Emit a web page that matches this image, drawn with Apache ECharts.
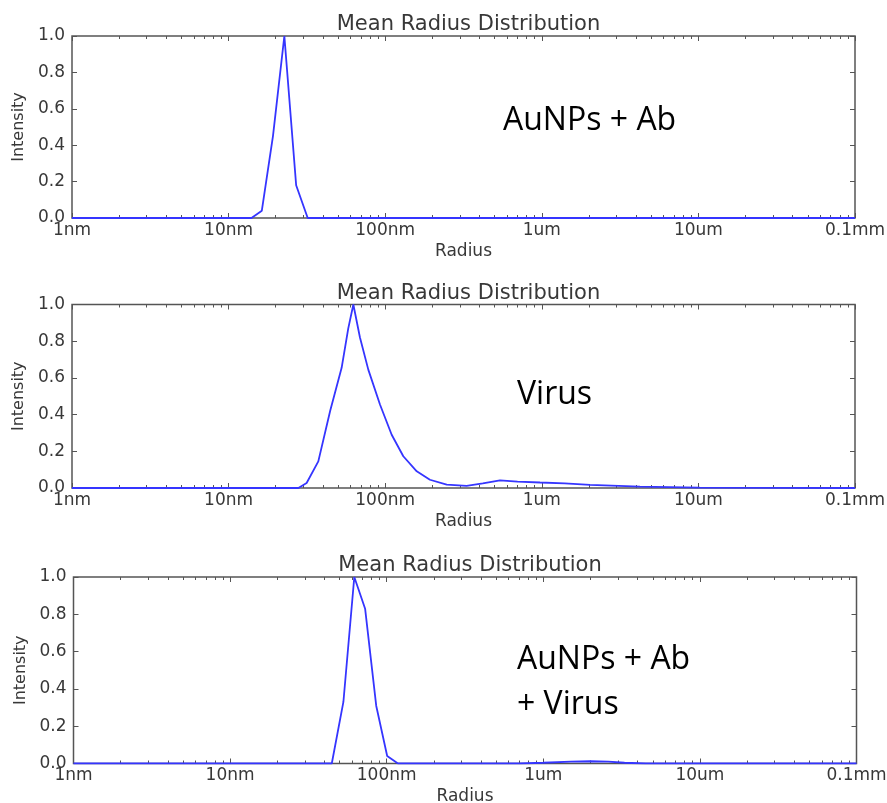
<!DOCTYPE html>
<html>
<head>
<meta charset="utf-8">
<script src="https://cdn.jsdelivr.net/npm/echarts@6/dist/echarts.min.js"></script>
<style>
  html, body { margin: 0; padding: 0; background: #fff; }
  #chart { width: 887px; height: 803px; }
</style>
</head>
<body>
<div id="chart"></div>
<script>
// Radius axis (nm), decade ticks and their labels
const radiusTicks = [1, 10, 100, 1000, 10000, 100000];
const radiusTickLabels = ['1nm', '10nm', '100nm', '1um', '10um', '0.1mm'];
const intensityTicks = [0, 0.2, 0.4, 0.6, 0.8, 1.0];

// Panel titles and sample names
const panelTitles = ['Mean Radius Distribution', 'Mean Radius Distribution', 'Mean Radius Distribution'];
const sampleNames = [['AuNPs + Ab'], ['Virus'], ['AuNPs + Ab', '+ Virus']];

// AuNPs + Ab
const aunpRadius = [1, 14.0, 16.3, 19.2, 22.7, 27.0, 32.0, 100000];
const aunpIntensity = [0, 0, 0.04, 0.45, 1.0, 0.18, 0, 0];

// Virus
const virusRadius = [1, 27.9, 31.5, 37.4, 44.5, 52.7, 58.1, 62.6, 69.0, 78.0, 92.6, 110, 130.5, 159, 193, 247, 331, 420, 541, 700, 974, 1400, 2032, 4236, 10200, 100000];
const virusIntensity = [0, 0, 0.027, 0.145, 0.42, 0.655, 0.87, 1.0, 0.82, 0.645, 0.455, 0.29, 0.173, 0.091, 0.045, 0.018, 0.012, 0.025, 0.042, 0.035, 0.03, 0.025, 0.017, 0.007, 0.002, 0];

// AuNPs + Ab + Virus
const mixRadius = [1, 44.6, 52.9, 62.1, 72.8, 85.7, 100.7, 118, 700, 1000, 1500, 2000, 2600, 3300, 4500, 100000];
const mixIntensity = [0, 0, 0.33, 1.0, 0.83, 0.31, 0.04, 0, 0, 0.004, 0.01, 0.012, 0.01, 0.004, 0, 0];

const panelRadius = [aunpRadius, virusRadius, mixRadius];
const panelIntensity = [aunpIntensity, virusIntensity, mixIntensity];

// Plot boxes, in pixels
const boxes = [
  { left: 72, top: 36, width: 783, height: 182 },
  { left: 72, top: 304.5, width: 783, height: 183.5 },
  { left: 73.5, top: 577, width: 783, height: 186.5 }
];
const titleTops = [9, 278.5, 550.5];
const noteBoxes = [
  { x: 503, y: [121] },
  { x: 517, y: [394.5] },
  { x: 517, y: [659.5, 704.5] }
];

// Minor log ticks at 2..9 of every decade
const minorRadius = [];
for (let d = 0; d < 5; d++) {
  for (let m = 2; m <= 9; m++) minorRadius.push(m * Math.pow(10, d));
}

const textColor = '#383838';
const frameColor = '#555';
const lineColor = '#3535ff';
const font = 'DejaVu Sans';

function radiusLabel(v) {
  const i = radiusTicks.findIndex(t => Math.abs(Math.log10(t) - Math.log10(v)) < 1e-6);
  return i >= 0 ? radiusTickLabels[i] : '';
}

const grid = [], xAxis = [], yAxis = [], series = [], title = [], graphic = [];

boxes.forEach((b, i) => {
  grid.push(Object.assign({
    show: true, borderColor: frameColor, borderWidth: 1.5,
    backgroundColor: 'transparent', containLabel: false, outerBoundsMode: 'none'
  }, b));

  title.push({
    text: panelTitles[i],
    left: b.left + b.width / 2,
    top: titleTops[i],
    textAlign: 'center',
    textStyle: { fontFamily: font, fontSize: 21, fontWeight: 'normal', color: textColor }
  });

  const logBase = { type: 'log', logBase: 10, min: 1, max: 100000, gridIndex: i, axisLine: { show: false }, splitLine: { show: false } };
  const majorTick = { show: true, inside: true, length: 5, lineStyle: { color: frameColor, width: 1 } };
  const minorTick = { show: true, inside: true, length: 3, customValues: minorRadius, lineStyle: { color: frameColor, width: 1 } };

  // bottom: labels + decade ticks
  xAxis.push(Object.assign({}, logBase, {
    position: 'bottom',
    name: 'Radius', nameLocation: 'middle', nameGap: 25,
    nameTextStyle: { fontFamily: font, fontSize: 17, color: textColor },
    axisTick: majorTick,
    axisLabel: { show: true, margin: 4, fontFamily: font, fontSize: 17, color: textColor, formatter: radiusLabel, showMinLabel: true, showMaxLabel: true }
  }));
  // bottom minor ticks
  xAxis.push(Object.assign({}, logBase, { position: 'bottom', axisTick: minorTick, axisLabel: { show: false } }));
  // top ticks
  xAxis.push(Object.assign({}, logBase, { position: 'top', axisTick: majorTick, axisLabel: { show: false } }));
  xAxis.push(Object.assign({}, logBase, { position: 'top', axisTick: minorTick, axisLabel: { show: false } }));

  const yBase = { type: 'value', min: 0, max: 1, interval: 0.2, gridIndex: i, axisLine: { show: false }, splitLine: { show: false } };
  yAxis.push(Object.assign({}, yBase, {
    position: 'left',
    name: 'Intensity', nameLocation: 'middle', nameGap: 44, nameRotate: 90,
    nameTextStyle: { fontFamily: font, fontSize: 16, color: textColor },
    axisTick: majorTick,
    axisLabel: { margin: 7, fontFamily: font, fontSize: 17, color: textColor, formatter: v => v.toFixed(1) }
  }));
  yAxis.push(Object.assign({}, yBase, { position: 'right', axisTick: majorTick, axisLabel: { show: false } }));

  series.push({
    type: 'line',
    xAxisIndex: i * 4,
    yAxisIndex: i * 2,
    data: panelRadius[i].map((r, k) => [r, panelIntensity[i][k]]),
    showSymbol: false,
    symbol: 'none',
    smooth: false,
    lineStyle: { color: lineColor, width: 1.8 },
    emphasis: { disabled: true },
    animation: false
  });

  sampleNames[i].forEach((txt, k) => {
    graphic.push({
      type: 'text',
      x: noteBoxes[i].x,
      y: noteBoxes[i].y[k],
      style: { text: txt, fontFamily: 'Open Sans', fontSize: 32, fill: '#000', verticalAlign: 'middle', align: 'left' }
    });
  });
});

const chart = echarts.init(document.getElementById('chart'), null, { renderer: 'canvas' });
chart.setOption({
  animation: false,
  backgroundColor: '#fff',
  title, grid, xAxis, yAxis, series, graphic
});
</script>
</body>
</html>
